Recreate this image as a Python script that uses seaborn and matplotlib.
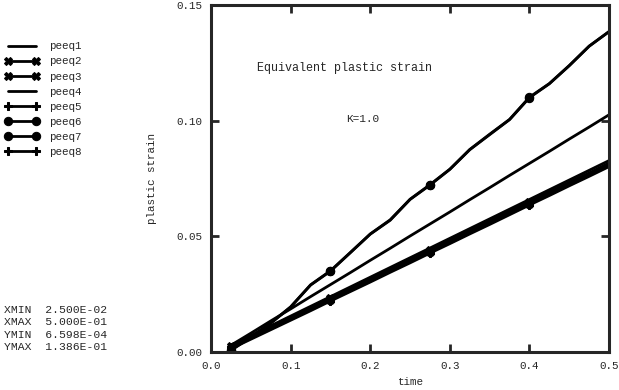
import matplotlib
matplotlib.use('agg')
import matplotlib.pyplot as plt
import seaborn as sns
import pandas as pd

sns.set_style("ticks")
plt.rcParams['font.family'] = ['Liberation Mono', 'DejaVu Sans Mono']

time = [0.025, 0.05, 0.075, 0.1, 0.125, 0.15, 0.175, 0.2, 0.225, 0.25,
        0.275, 0.3, 0.325, 0.35, 0.375, 0.4, 0.425, 0.45, 0.475, 0.5]

peeq1 = [0.0030, 0.0072, 0.0114, 0.0156, 0.0198, 0.0240, 0.0282, 0.0324, 0.0366, 0.0408,
         0.0450, 0.0492, 0.0534, 0.0576, 0.0618, 0.0660, 0.0702, 0.0744, 0.0786, 0.0828]
peeq2 = [0.0020, 0.0061, 0.0102, 0.0143, 0.0184, 0.0226, 0.0267, 0.0309, 0.0350, 0.0391,
         0.0433, 0.0474, 0.0516, 0.0557, 0.0599, 0.0641, 0.0682, 0.0724, 0.0765, 0.0806]
peeq3 = [0.0025, 0.0066, 0.0108, 0.0150, 0.0191, 0.0233, 0.0275, 0.0317, 0.0358, 0.0400,
         0.0442, 0.0484, 0.0525, 0.0567, 0.0609, 0.0650, 0.0692, 0.0734, 0.0775, 0.0817]
peeq4 = [0.0030, 0.0082, 0.0135, 0.0187, 0.0240, 0.0292, 0.0344, 0.0397, 0.0449, 0.0502,
         0.0554, 0.0606, 0.0659, 0.0711, 0.0764, 0.0816, 0.0868, 0.0921, 0.0973, 0.1026]
peeq5 = [0.0015, 0.0056, 0.0097, 0.0138, 0.0179, 0.0221, 0.0262, 0.0303, 0.0345, 0.0386,
         0.0428, 0.0469, 0.0511, 0.0552, 0.0594, 0.0636, 0.0677, 0.0719, 0.0760, 0.0802]
peeq6 = [0.0007, 0.0065, 0.0125, 0.0195, 0.0290, 0.0350, 0.0430, 0.0510, 0.0570, 0.0660,
         0.0722, 0.0790, 0.0875, 0.0940, 0.1005, 0.1100, 0.1160, 0.1238, 0.1322, 0.1386]
peeq7 = [0.0010, 0.0066, 0.0126, 0.0196, 0.0291, 0.0352, 0.0431, 0.0511, 0.0572, 0.0661,
         0.0724, 0.0791, 0.0876, 0.0942, 0.1006, 0.1102, 0.1161, 0.1239, 0.1323, 0.1385]
peeq8 = [0.0022, 0.0063, 0.0105, 0.0146, 0.0188, 0.0230, 0.0271, 0.0313, 0.0354, 0.0396,
         0.0438, 0.0479, 0.0521, 0.0562, 0.0604, 0.0646, 0.0687, 0.0729, 0.0770, 0.0812]

names = ["peeq1", "peeq2", "peeq3", "peeq4", "peeq5", "peeq6", "peeq7", "peeq8"]
series = [peeq1, peeq2, peeq3, peeq4, peeq5, peeq6, peeq7, peeq8]
markers = [None, "X", "X", None, "P", "o", "o", "P"]

df = pd.DataFrame({"time": time})
for n, s in zip(names, series):
    df[n] = s

fig = plt.figure(figsize=(6.19, 3.9), dpi=100)
ax = fig.add_axes([0.341, 0.097, 0.643, 0.89])

for n, m in zip(names, markers):
    sns.lineplot(data=df, x="time", y=n, ax=ax, color="black", lw=2.0,
                 marker=m, markersize=6, markevery=[0, 5, 10, 15],
                 markeredgecolor="black", label=n, legend=False)

ax.set_xlim(0, 0.5)
ax.set_ylim(0, 0.15)
ax.set_xticks([0.0, 0.1, 0.2, 0.3, 0.4, 0.5])
ax.set_yticks([0.0, 0.05, 0.10, 0.15])
ax.set_xticklabels(["0.0", "0.1", "0.2", "0.3", "0.4", "0.5"])
ax.set_yticklabels(["0.00", "0.05", "0.10", "0.15"])
ax.tick_params(direction="in", length=6, width=2, top=True, right=True,
               labelsize=7.8, pad=6)
for sp in ax.spines.values():
    sp.set_linewidth(2.2)
ax.set_xlabel("time", fontsize=7.8, labelpad=5)
ax.set_ylabel("plastic strain", fontsize=7.8, labelpad=14)

ax.text(0.168, 0.1228, "Equivalent plastic strain", fontsize=8.5, ha="center", va="center")
ax.text(0.19, 0.1007, "K=1.0", fontsize=8, ha="center", va="center")

handles, labels = ax.get_legend_handles_labels()
fig.legend(handles, labels, loc="upper left", bbox_to_anchor=(0.0, 0.905),
           frameon=False, numpoints=2, fontsize=7.8, handlelength=3.2,
           labelspacing=0.47, borderaxespad=0, handletextpad=0.9)

info = "XMIN  2.500E-02\nXMAX  5.000E-01\nYMIN  6.598E-04\nYMAX  1.386E-01"
fig.text(0.006, 0.218, info, fontsize=8.2, va="top", linespacing=1.3)

fig.savefig("out.png", dpi=100)
plt.close()
